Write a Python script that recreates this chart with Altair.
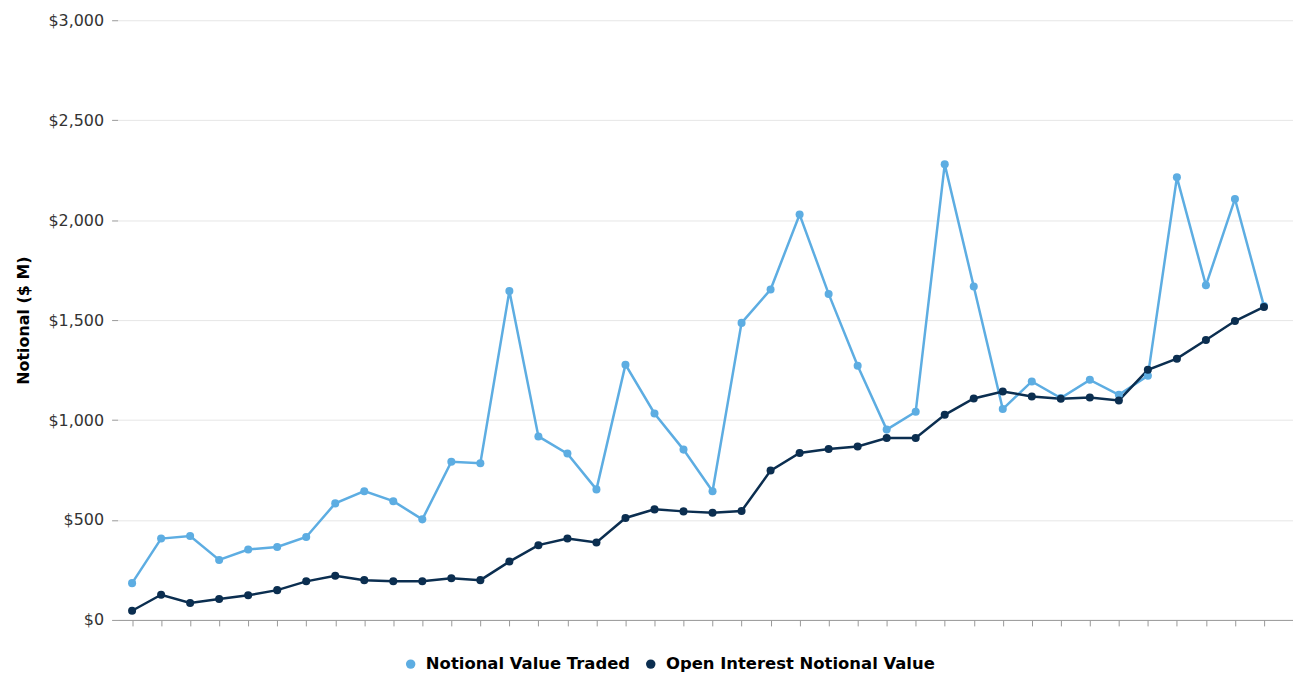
import altair as alt
import pandas as pd

periods = list(range(40))
traded = [184, 407, 420, 300, 352, 365, 415, 583, 644, 594,
          503, 791, 784, 1646, 918, 832, 653, 1277, 1033, 852,
          644, 1486, 1653, 2028, 1631, 1272, 952, 1041, 2279, 1668,
          1055, 1193, 1110, 1201, 1126, 1221, 2214, 1674, 2106, 1570]
open_interest = [46, 126, 85, 105, 123, 149, 193, 221, 199, 193,
                 193, 208, 199, 292, 374, 407, 387, 510, 553, 543,
                 536, 545, 747, 835, 855, 868, 910, 910, 1026, 1108,
                 1143, 1118, 1106, 1113, 1098, 1251, 1307, 1400, 1495, 1566]
series_names = ["Notional Value Traded", "Open Interest Notional Value"]
colors = ["#5dade2", "#0b2e50"]

rows = []
for i, p in enumerate(periods):
    rows.append({"period": p, "series": series_names[0], "value": traded[i], "order": 0})
    rows.append({"period": p, "series": series_names[1], "value": open_interest[i], "order": 1})
df = pd.DataFrame(rows)

FONT = "DejaVu Sans"

x = alt.X("period:Q",
          scale=alt.Scale(domain=[-0.5, 40], nice=False, zero=False),
          axis=alt.Axis(title=None, labels=False, values=list(range(41)),
                        grid=False, tickColor="#999999", domainColor="#999999",
                        tickSize=6, domainWidth=1))
y = alt.Y("value:Q",
          scale=alt.Scale(domain=[0, 3000], nice=False),
          axis=alt.Axis(title="Notional ($ M)", values=[0, 500, 1000, 1500, 2000, 2500, 3000],
                        format="$,.0f", grid=True, gridColor="#e6e6e6", domain=False,
                        tickColor="#999999", tickSize=6, labelPadding=8,
                        labelFont=FONT, labelFontSize=16, labelColor="#333333",
                        titleFont=FONT, titleFontSize=16, titleFontWeight="bold",
                        titleColor="#000000", titlePadding=16))
color = alt.Color("series:N",
                  scale=alt.Scale(domain=series_names, range=colors),
                  legend=alt.Legend(title=None, orient="none", direction="horizontal",
                                    legendX=286, legendY=638,
                                    symbolType="circle", symbolSize=90,
                                    symbolStrokeWidth=0, labelLimit=0,
                                    labelFont=FONT, labelFontSize=16.5, labelFontWeight="bold",
                                    labelColor="#000000", columnPadding=12, labelOffset=7))

base = alt.Chart(df).encode(x=x, y=y, color=color, order=alt.Order("order:Q"))
lines = base.mark_line(strokeWidth=2.5)
points = base.mark_point(filled=True, size=65, opacity=1)

chart = (alt.layer(lines, points)
         .properties(width=1180, height=602, background="white",
                     autosize=alt.AutoSizeParams(type="none"),
                     padding={"left": 110, "top": 11, "right": 0, "bottom": 54})
         .configure_view(stroke="transparent")
         .configure_axisY(domain=False))

chart.save("out.html", embed_options={"renderer": "svg", "actions": False})
